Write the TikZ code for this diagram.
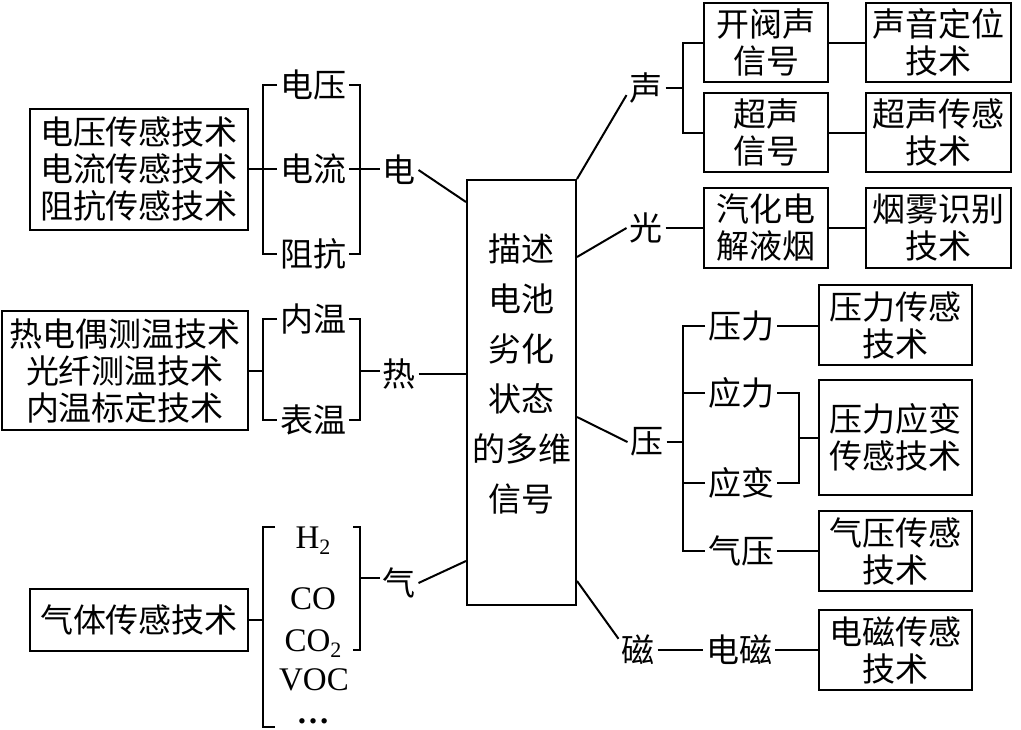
\documentclass[tikz,border=0pt]{standalone}
\usepackage{fontspec}
\setmainfont{Liberation Serif}
\newfontfamily\cjk{Noto Sans CJK SC}
\usetikzlibrary{calc}
\begin{document}
\begin{tikzpicture}[x=1pt,y=-1pt,line width=2pt,
  box/.style={draw,font=\cjk\fontsize{33}{37}\selectfont,align=center,inner sep=0pt},
  lbl/.style={font=\cjk\fontsize{33}{37}\selectfont,inner sep=2pt},
  lat/.style={font=\fontsize{33}{33}\selectfont,inner sep=0pt,anchor=base}]
\useasboundingbox (0,0) rectangle (1021,729);
% ---------- centre ----------
\node[draw,minimum width=109pt,minimum height=425pt] (core) at (521.5,392.5) {};
\node[font=\cjk\fontsize{33}{50}\selectfont,align=center,inner sep=0pt] (coretext) at (521.5,374) {描述\\电池\\劣化\\状态\\的多维\\信号};
% ---------- left: electric ----------
\node[box,minimum width=218pt,minimum height=121pt] (b1) at (139,169) {电压传感技术\\电流传感技术\\阻抗传感技术};
\node[lbl] (dianya) at (313,85) {电压};
\node[lbl] (dianliu) at (313,169) {电流};
\node[lbl] (zukang) at (313,254) {阻抗};
\node[lbl] (dian) at (399,170) {电};
\coordinate (lx) at (263,0);
\coordinate (rx) at (360,0);
\draw (dianya.west) -- (dianya.west -| lx) -- (zukang.west -| lx) -- (zukang.west);
\draw (dianya.east) -- (dianya.east -| rx) -- (zukang.east -| rx) -- (zukang.east);
\draw (b1.east) -- (b1.east -| dianliu.west);
\draw (dianliu.east) -- (dianliu.east -| dian.west);
% ---------- left: heat ----------
\node[box,minimum width=246pt,minimum height=119pt] (b2) at (125,370.5) {热电偶测温技术\\光纤测温技术\\内温标定技术};
\node[lbl] (neiwen) at (313,319) {内温};
\node[lbl] (biaowen) at (313,420) {表温};
\node[lbl] (re) at (399,374) {热};
\draw (neiwen.west) -- (neiwen.west -| lx) -- (biaowen.west -| lx) -- (biaowen.west);
\draw (neiwen.east) -- (neiwen.east -| rx) -- (biaowen.east -| rx) -- (biaowen.east);
\draw (b2.east) -- (b2.east -| lx);
\draw (b2.east -| rx) -- (b2.east -| re.west);
% ---------- left: gas ----------
\node[box,minimum width=218pt,minimum height=62pt] (b3) at (139,620) {气体传感技术};
\node[lat] (h2) at (313,548) {H\raisebox{-0.2em}{\fontsize{22}{22}\selectfont 2}};
\node[lat] (co) at (313,609) {CO};
\node[lat] (co2) at (313,651) {CO\raisebox{-0.2em}{\fontsize{22}{22}\selectfont 2}};
\node[lat] (voc) at (314,690) {VOC};
\node[lat] (dots) at (313,723) {\bfseries …};
\node[lbl] (qi) at (399,583) {气};
\coordinate (g1) at (275,527);
\coordinate (g2) at (263,527);
\coordinate (g3) at (263,727);
\coordinate (g4) at (275,727);
\coordinate (g5) at (353,527);
\coordinate (g6) at (360,527);
\coordinate (g7) at (360,650);
\coordinate (g8) at (353,650);
\coordinate (g9) at (360,578);
\draw (g1) -- (g2) -- (g3) -- (g4);
\draw (g5) -- (g6) -- (g7) -- (g8);
\draw (b3.east) -- (b3.east -| lx);
\draw (g9) -- (g9 -| qi.west);
% ---------- centre connectors ----------
\draw (dian.east) -- ($(core.north west)+(0,23)$);
\draw (re.east) -- (re.east -| core.west);
\draw (qi.east) -- ($(core.south west)+(0,-45)$);
% ---------- right: sound ----------
\node[lbl] (sheng) at (646,88) {声};
\node[box,minimum width=124pt,minimum height=79pt] (A) at (766,42.5) {开阀声\\信号};
\node[box,minimum width=124pt,minimum height=79pt] (B) at (766,132.5) {超声\\信号};
\node[box,minimum width=145pt,minimum height=79pt] (C) at (938.5,42.5) {声音定位\\技术};
\node[box,minimum width=145pt,minimum height=79pt] (D) at (938.5,132.5) {超声传感\\技术};
\coordinate (sx) at (683,0);
\draw (core.north east) -- (sheng.200);
\draw (sheng.east) -- (sheng.east -| sx);
\draw (A.west) -- (A.west -| sx) -- (B.west -| sx) -- (B.west);
\draw (A.east) -- (C.west);
\draw (B.east) -- (D.west);
% ---------- right: light ----------
\node[lbl] (guang) at (646,228) {光};
\node[box,minimum width=124pt,minimum height=80pt] (E) at (766,228) {汽化电\\解液烟};
\node[box,minimum width=145pt,minimum height=80pt] (F) at (938.5,228) {烟雾识别\\技术};
\draw ($(core.north east)+(0,78)$) -- (guang.west);
\draw (guang.east) -- (E.west);
\draw (E.east) -- (F.west);
% ---------- right: pressure ----------
\node[lbl] (ya) at (647,442) {压};
\node[lbl] (yali) at (741,326) {压力};
\node[lbl] (yingli) at (741,393) {应力};
\node[lbl] (yingbian) at (741,483) {应变};
\node[lbl] (qiya) at (741,551) {气压};
\node[box,minimum width=153pt,minimum height=80pt] (G) at (895.5,325) {压力传感\\技术};
\node[box,minimum width=153pt,minimum height=115pt] (H) at (895.5,437.5) {压力应变\\传感技术};
\node[box,minimum width=153pt,minimum height=80pt] (I) at (895.5,551) {气压传感\\技术};
\coordinate (px) at (683,0);
\coordinate (hx) at (799,0);
\draw ($(core.north east)+(0,238)$) -- (ya.west);
\draw (ya.east) -- (ya.east -| px);
\draw (yali.west) -- (yali.west -| px) -- (qiya.west -| px) -- (qiya.west);
\draw (yingli.west) -- (yingli.west -| px);
\draw (yingbian.west) -- (yingbian.west -| px);
\draw (yali.east) -- (yali.east -| G.west);
\draw (yingli.east) -- (yingli.east -| hx) -- (yingbian.east -| hx) -- (yingbian.east);
\draw (H.west -| hx) -- (H.west);
\draw (qiya.east) -- (qiya.east -| I.west);
% ---------- right: magnetic ----------
\node[lbl] (ci) at (638,650) {磁};
\node[lbl] (dianci) at (739,650) {电磁};
\node[box,minimum width=153pt,minimum height=80pt] (J) at (895.5,650) {电磁传感\\技术};
\draw ($(core.south east)+(0,-25)$) -- (ci.150);
\draw (ci.east) -- (ci.east -| dianci.west);
\draw (dianci.east) -- (dianci.east -| J.west);
\end{tikzpicture}
\end{document}
